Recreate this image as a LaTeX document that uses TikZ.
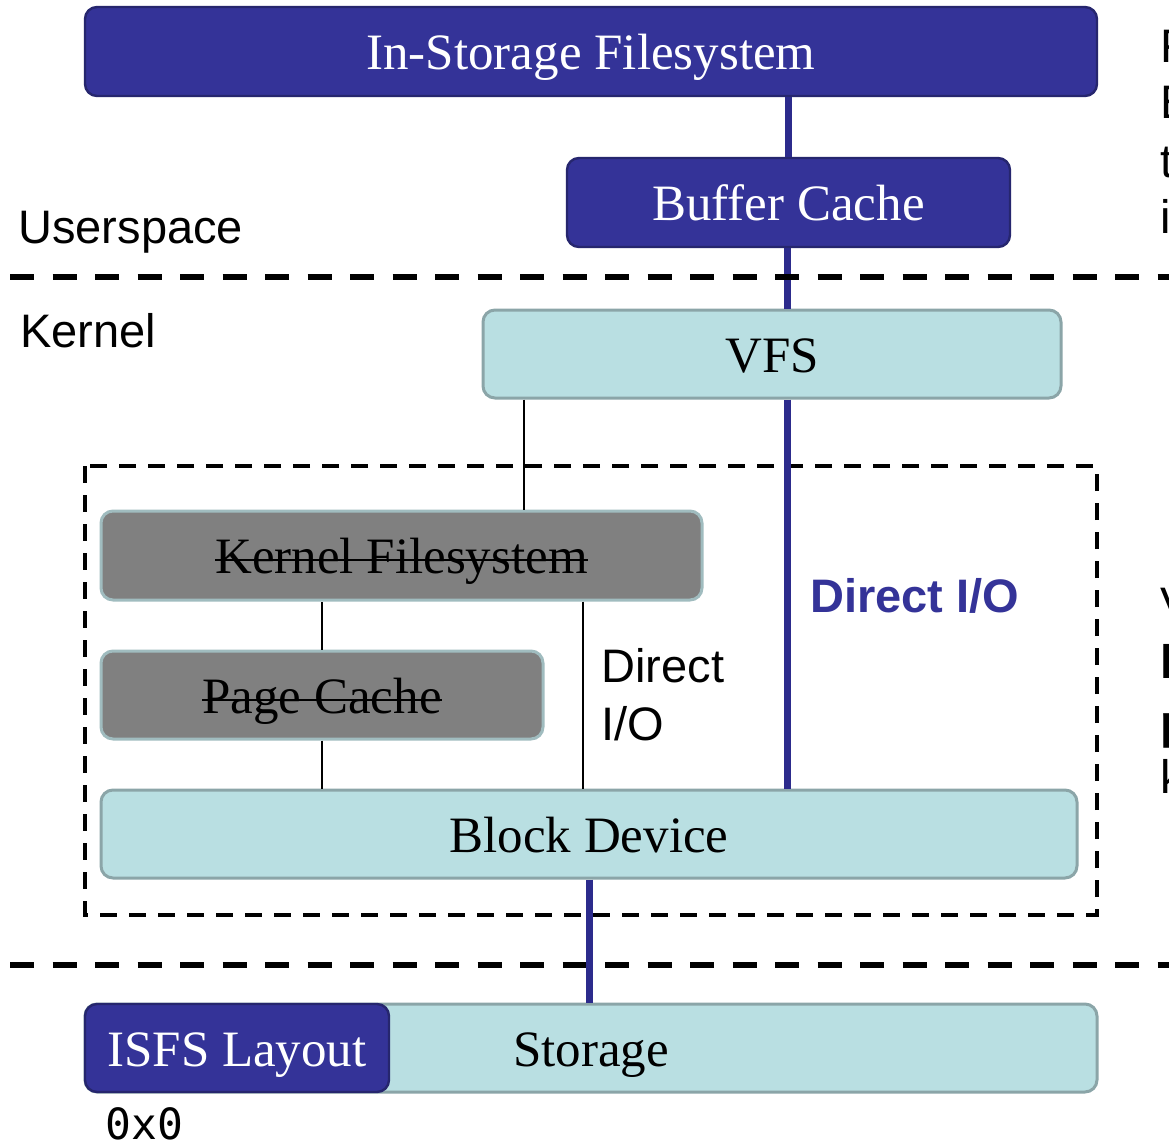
\documentclass[tikz,border=0pt]{standalone}
\usepackage{fontspec}
\setmainfont{Liberation Serif}
\setsansfont{Liberation Sans}
\setmonofont{DejaVu Sans Mono}
\usetikzlibrary{calc}
\newcommand{\mystrike}[1]{\setbox0=\hbox{#1}\rlap{\rule[0.24em]{\wd0}{1pt}}\box0}
\definecolor{isblue}{HTML}{343398}
\definecolor{isblueline}{HTML}{2C2B8C}
\definecolor{isborder}{HTML}{26266E}
\definecolor{lbfill}{HTML}{B9DFE2}
\definecolor{lbborder}{HTML}{8BA5A8}
\definecolor{grayfill}{HTML}{808080}
\definecolor{grayborder}{HTML}{A0BCBF}
\tikzset{
  box/.style={rectangle, rounded corners=6pt, line width=1.2pt, inner sep=0pt,
    text height=18pt, text depth=0pt,
    font=\fontsize{25.5}{30}\selectfont},
  dbox/.style={box, fill=isblue, draw=isborder, text=white},
  lbox/.style={box, fill=lbfill, draw=lbborder, line width=1.5pt},
  gbox/.style={box, fill=grayfill, draw=grayborder, line width=1.5pt},
  bigdash/.style={line width=3pt, dash pattern=on 12pt off 9.25pt},
  smalldash/.style={line width=1.6pt, dash pattern=on 8.5pt off 6pt},
  bluelink/.style={draw=isblueline, line width=3.5pt},
  thinlink/.style={draw=black, line width=1pt},
  lab/.style={font=\sffamily\fontsize{23.5}{29}\selectfont, inner sep=0pt, anchor=base west},
  clipped/.style={lab}
}
\begin{document}
\begin{tikzpicture}[x=0.5pt,y=-0.5pt]
\useasboundingbox[fill=white] (0,0) rectangle (1169,1146);

% boxes
\node[dbox, minimum width=506pt, minimum height=44.5pt] (isfsys) at (591,51.5) {In-Storage Filesystem};
\node[dbox, minimum width=221.5pt, minimum height=44.5pt] (bufcache) at (788.5,202.5) {Buffer Cache};
\node[lbox, minimum width=289pt, minimum height=44pt] (vfs) at (772,354) {VFS};
\node[gbox, minimum width=300.5pt, minimum height=44.5pt] (kfs) at (401.5,555.5) {\mystrike{Kernel Filesystem}};
\node[gbox, minimum width=221pt, minimum height=44pt] (pcache) at (322,695) {\mystrike{Page Cache}};
\node[lbox, minimum width=488pt, minimum height=44pt] (bdev) at (589,834) {Block Device};
\node[lbox, minimum width=506pt, minimum height=44pt] (storage) at (591,1048) {Storage};
\node[dbox, minimum width=152pt, minimum height=44pt] (layout) at (237,1048) {ISFS Layout};

% dashed separators / frame
\draw[bigdash] (10,965) -- (1180,965);
\draw[smalldash] (85,466) rectangle (1097,915);

% connectors
\coordinate (vfsleft) at ($(vfs.south west)+(42,0)$);
\coordinate (kfsright) at ($(kfs.south east)+(-121,0)$);
\coordinate (bctap) at ($(bufcache.south)+(-1.5,0)$);
\draw[bluelink] (bufcache.north) -- (bufcache.north |- isfsys.south);
\draw[bluelink] (bctap) -- (bctap |- vfs.north);
\draw[bluelink] (bctap |- vfs.south) -- (bctap |- bdev.north);
\draw[bluelink] (bdev.south) -- (bdev.south |- storage.north);
\draw[thinlink] (vfsleft) -- (vfsleft |- kfs.north);
\draw[thinlink] (pcache.north) -- (pcache.north |- kfs.south);
\draw[thinlink] (pcache.south) -- (pcache.south |- bdev.north);
\draw[thinlink] (kfsright) -- (kfsright |- bdev.north);

\draw[bigdash] (10,277) -- (1180,277);

% labels
\node[lab] (userspace) at (18,243) {Userspace};
\node[lab] (kernel) at (20,347) {Kernel};
\node[lab, align=left] (dio) at (601,740) {Direct\\I/O};
\node[lab, font=\sffamily\bfseries\fontsize{23.5}{29}\selectfont, text=isblue] (diob) at (810,612) {Direct I/O};
\node[inner sep=0pt, anchor=base west, font=\ttfamily\fontsize{21.5}{26}\selectfont] (addr) at (105,1139) {0x0};

% text cut off at the right edge
\node[clipped] (r1) at (1160,62) {F};
\node[clipped] (r2) at (1160,118) {E};
\node[clipped] (r3) at (1160,177) {t};
\node[clipped] (r4) at (1160,233) {i};
\node[clipped] (r5) at (1160,620) {V};
\node[clipped, font=\sffamily\bfseries\fontsize{23.5}{29}\selectfont] (r6) at (1160,678) {k};
\node[clipped, font=\sffamily\bfseries\fontsize{23.5}{29}\selectfont] (r7) at (1160,738) {p};
\node[clipped] (r8) at (1160,793) {k};
\end{tikzpicture}
\end{document}
